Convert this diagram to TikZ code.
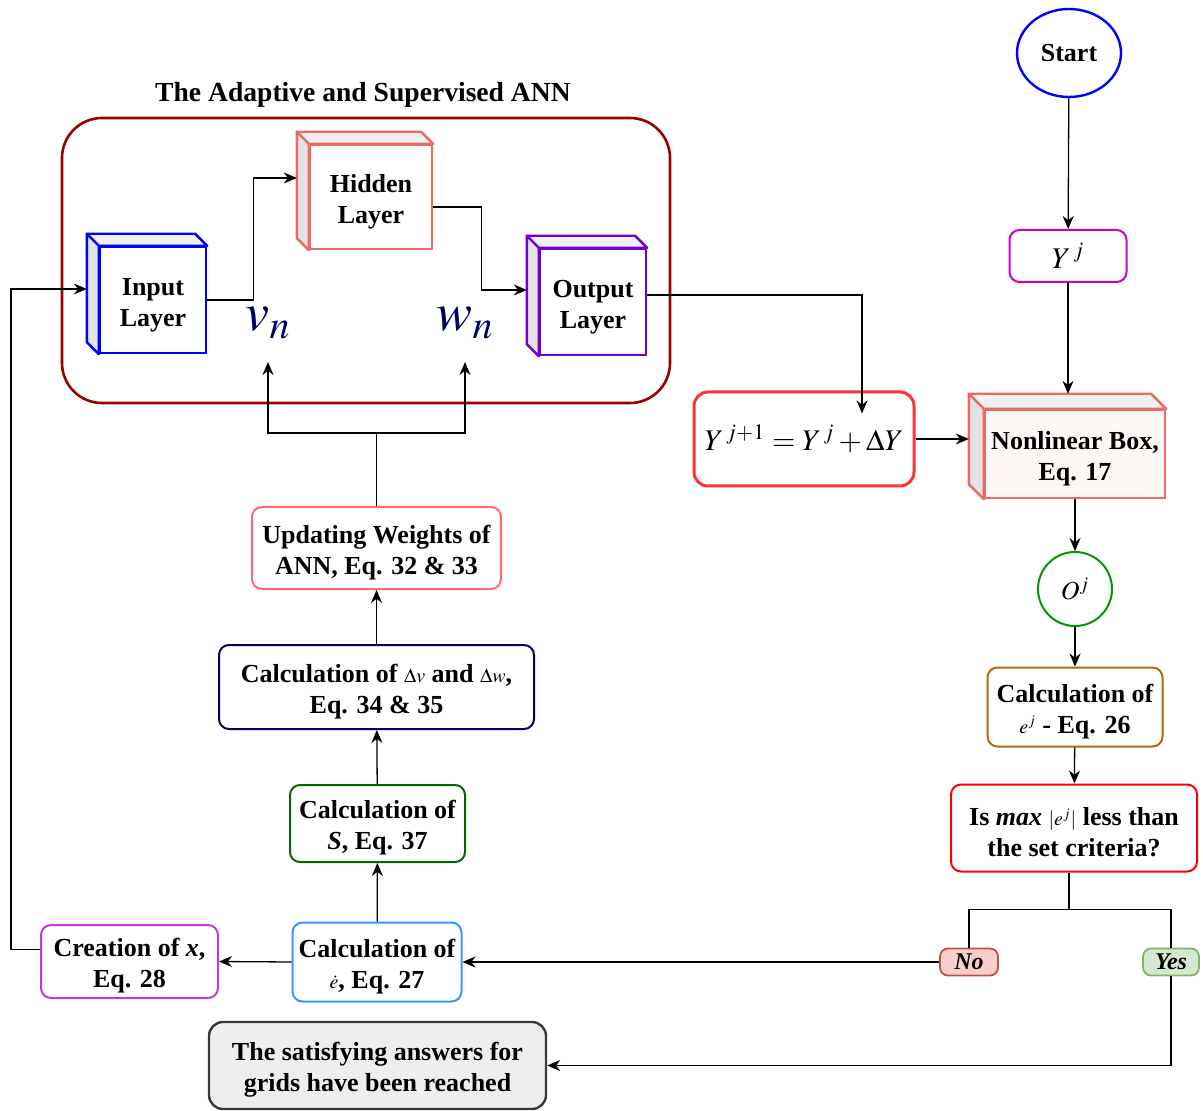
\documentclass[tikz,border=0pt]{standalone}
\usepackage{mathptmx}
\usepackage{fontspec}
\setmainfont{Liberation Serif}
\usetikzlibrary{arrows.meta,calc,shapes.geometric}
\definecolor{annframe}{HTML}{990000}
\definecolor{inblue}{HTML}{0000FF}
\definecolor{hidred}{HTML}{EA6B66}
\definecolor{outviolet}{HTML}{7000D8}
\definecolor{yjmag}{HTML}{CC00CC}
\definecolor{eqred}{HTML}{FF3333}
\definecolor{nlfill}{HTML}{FDF8F5}
\definecolor{ojgreen}{HTML}{009900}
\definecolor{ejorange}{HTML}{B8650F}
\definecolor{critred}{HTML}{FF0000}
\definecolor{nofill}{HTML}{F8CECC}
\definecolor{nodraw}{HTML}{B85450}
\definecolor{yesfill}{HTML}{D5E8D4}
\definecolor{yesdraw}{HTML}{82B366}
\definecolor{edotblue}{HTML}{3399FF}
\definecolor{creatmag}{HTML}{BE3BDB}
\definecolor{sgreen}{HTML}{006600}
\definecolor{dvnavy}{HTML}{000066}
\definecolor{updpink}{HTML}{FF6B6B}
\definecolor{donefill}{HTML}{EEEEEE}
\definecolor{donedraw}{HTML}{36393D}
\definecolor{cubetop}{HTML}{F0F0F0}
\definecolor{cubeside}{HTML}{E3E3E3}
\tikzset{
  framed/.style={draw, rounded corners=5pt, line width=1pt, fill=white, align=center,
              inner sep=0pt, font=\fontsize{13}{15.5}\selectfont\bfseries},
  box/.style={framed},
  cubefront/.style={box, rounded corners=0pt, line width=1.2pt},
  tag/.style={framed, rounded corners=4pt, line width=0.9pt,
              font=\fontsize{12}{14}\selectfont\bfseries\itshape},
  link/.style={line width=0.65pt},
  arr/.style={link, -{Stealth[length=6.5pt,width=5.5pt]}},
  wlabel/.style={text=dvnavy, inner sep=0pt, font=\fontsize{27}{30}\selectfont},
}
\newcommand{\topstrut}{\rule{0pt}{13.5pt}}
\newcommand{\smallmath}[1]{{\fontsize{10}{12}\selectfont$#1$}}
\newcommand{\cubesides}[3]{%
  \filldraw[draw=#3, fill=cubetop, line width=1.2pt, line join=round]
    (#1.north west) -- ++(-#2,-#2) -- ($(#1.north east)+(-#2,-#2)$) -- (#1.north east) -- cycle;
  \filldraw[draw=#3, fill=cubeside, line width=1.2pt, line join=round]
    (#1.north west) -- ++(-#2,-#2) -- ($(#1.south west)+(-#2,-#2)$) -- (#1.south west) -- cycle;
}

\begin{document}
\begin{tikzpicture}[x=0.5pt, y=-0.5pt]
  \useasboundingbox (0,0) rectangle (1203,1111);

  \node[draw=annframe, line width=1.3pt, rounded corners=20pt, minimum width=304pt,
        minimum height=142.5pt] (ann) at (366,260.5) {};
  \node[font=\fontsize{13.8}{16}\selectfont\bfseries] (title) at (363,95)
    {The Adaptive and Supervised ANN};

  \node[cubefront, draw=inblue, minimum width=53pt, minimum height=53pt] (inl) at (153,300) {\topstrut Input\\Layer};
  \cubesides{inl}{12}{inblue}
  \node[cubefront, draw=hidred, minimum width=61pt, minimum height=52pt] (hid) at (371,197) {\topstrut Hidden\\Layer};
  \cubesides{hid}{12}{hidred}
  \node[cubefront, draw=outviolet, minimum width=53pt, minimum height=53pt] (outl) at (593,302) {\topstrut Output\\Layer};
  \cubesides{outl}{12}{outviolet}
  \node[wlabel] (vn) at (268,323) {$v_n$};
  \node[wlabel] (wn) at (465,323) {$w_n$};

  \node[draw=inblue, line width=1.2pt, ellipse, minimum width=52pt, minimum height=44pt,
        inner sep=0pt, font=\fontsize{13}{15}\selectfont\bfseries] (start) at (1069,53) {Start};
  \node[framed, draw=yjmag, minimum width=58.5pt, minimum height=26pt,
        font=\fontsize{15}{17}\selectfont] (yj) at (1068,256) {$Y^{\,j}$};
  \node[framed, draw=eqred, line width=1.5pt, rounded corners=7pt, minimum width=110pt,
        minimum height=47pt, font=\fontsize{15}{17}\selectfont] (eq) at (804,439)
    {$Y^{\,j+1}=Y^{\,j}+\Delta Y$};
  \node[cubefront, draw=hidred, fill=nlfill, minimum width=90pt, minimum height=44pt] (nl) at (1075,454)
    {\topstrut Nonlinear Box,\\Eq. 17};
  \cubesides{nl}{15}{hidred}
  \node[draw=ojgreen, line width=1pt, circle, minimum size=37pt, inner sep=0pt,
        font=\fontsize{13}{15}\selectfont] (oj) at (1075,589) {$O^j$};
  \node[box, draw=ejorange, minimum width=87.5pt, minimum height=39.5pt] (ej) at (1075,707)
    {\topstrut Calculation of\\\smallmath{e^j} - Eq. 26};
  \node[box, draw=critred, minimum width=123pt, minimum height=43.5pt] (crit) at (1074,828)
    {\topstrut Is \textit{max} \smallmath{|e^j|} less than\\the set criteria?};
  \node[tag, draw=nodraw, fill=nofill, minimum width=29pt, minimum height=13.5pt] (no) at (969,962) {No};
  \node[tag, draw=yesdraw, fill=yesfill, minimum width=28pt, minimum height=13.5pt] (yes) at (1171,962) {Yes};

  \node[box, draw=edotblue, minimum width=84.5pt, minimum height=39.5pt] (edot) at (377,962)
    {\topstrut Calculation of\\\smallmath{\dot{e}}, Eq. 27};
  \node[box, draw=creatmag, minimum width=88.5pt, minimum height=36.5pt] (creat) at (129.5,961.5)
    {\topstrut Creation of \textit{x},\\Eq. 28};
  \node[box, draw=donedraw, fill=donefill, line width=1.2pt, rounded corners=7pt,
        minimum width=168.5pt, minimum height=43.5pt] (done) at (377.5,1065.5)
    {\topstrut The satisfying answers for\\grids have been reached};
  \node[box, draw=sgreen, minimum width=87.5pt, minimum height=38.5pt] (scalc) at (377.5,823.5)
    {\topstrut Calculation of\\\textit{S}, Eq. 37};
  \node[box, draw=dvnavy, minimum width=157.5pt, minimum height=42pt] (dvw) at (376.5,687)
    {\topstrut Calculation of \smallmath{\Delta v} and \smallmath{\Delta w},\\Eq. 34 \& 35};
  \node[box, draw=updpink, minimum width=124.5pt, minimum height=41pt] (upd) at (376.5,548)
    {\topstrut Updating Weights of\\ANN, Eq. 32 \& 33};

  \coordinate (hidin) at ($(hid.west)+(-12,-19)$);
  \coordinate (outin) at ($(outl.west)+(-12,-12)$);
  \coordinate (inin) at ($(inl.west)+(-12,-11)$);
  \coordinate (eqin) at ($(eq.north)+(58,23)$);
  \coordinate (nltop) at ($(nl.north west)+(-15,-15)$);
  \coordinate (nlleft) at ($(nl.west)+(-15,0)$);

  \draw[arr] (inl.east) -- ++(46,0) |- (hidin);
  \draw[arr] ([yshift=-5pt]hid.east) -- ++(48,0) |- (outin);
  \draw[arr] ([yshift=3.5pt]outl.east) -| (eqin);
  \draw[arr] (start) -- (yj);
  \draw[arr] (yj.south) -- (yj.south |- nltop);
  \draw[arr] (eq.east) -- (eq.east -| nlleft);
  \draw[arr] (nl.south) -- (oj.north);
  \draw[arr] (oj) -- (ej);
  \draw[arr] (ej) -- (crit);
  \draw[link] ([xshift=-2.5pt]crit.south) -- ++(0,37) coordinate (split);
  \draw[link] (no.north) |- (split) -| (yes.north);
  \draw[arr] (no.west) -- (edot.east);
  \draw[arr] (yes.south) |- (done.east);
  \draw[arr] (edot.west) -- (creat.east);
  \draw[arr] ([yshift=6pt]creat.west) -- ++(-29,0) |- (inin);
  \draw[arr] (edot) -- (scalc);
  \draw[arr] (scalc) -- (dvw);
  \draw[arr] (dvw) -- (upd);
  \draw[link] (upd.north) -- ++(0,-73) coordinate (fork);
  \draw[arr] (fork) -| ([yshift=-19.5pt]vn.center);
  \draw[arr] (fork) -| ([yshift=-19.5pt]wn.center);
\end{tikzpicture}
\end{document}
